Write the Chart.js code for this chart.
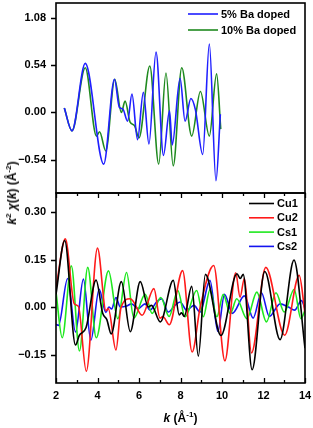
<!DOCTYPE html>
<html>
<head>
<meta charset="utf-8">
<script src="https://cdn.jsdelivr.net/npm/chart.js@4.4.1/dist/chart.umd.min.js"></script>
<style>
  html, body { margin: 0; padding: 0; background: #fff; }
  #wrap { position: relative; width: 313px; height: 428px; }
  #c { position: absolute; left: 0; top: 0; }
  .ttl { position: absolute; font-family: "Liberation Sans", Arial, sans-serif; font-weight: bold; font-size: 12px; white-space: nowrap; color: #000; line-height: 14px; }
  .ttl sup { font-size: 8px; line-height: 0; vertical-align: 5px; }
  #ytitle { left: 12px; top: 193px; transform: translate(-50%, -50%) rotate(-90deg); }
  #xtitle { left: 180.5px; top: 418px; transform: translate(-50%, -50%); }
</style>
</head>
<body>
<div id="wrap">
  <canvas id="c" width="313" height="428"></canvas>
  <div class="ttl" id="ytitle"><i>k</i><sup>2</sup> <i>χ</i>(<i>k</i>) (Å<sup>-2</sup>)</div>
  <div class="ttl" id="xtitle"><i>k</i> (Å<sup>-1</sup>)</div>
</div>
<script>
// ---- data ----
const xTicks = [2, 4, 6, 8, 10, 12, 14];
const topTicks = [-0.54, 0.00, 0.54, 1.08];
const botTicks = [-0.15, 0.00, 0.15, 0.30];

const labelsTop = ['5% Ba doped', '10% Ba doped'];
const labelsBot = ['Cu1', 'Cu2', 'Cs1', 'Cs2'];

const k5 = [2.40,2.77,3.41,4.30,4.82,5.05,5.22,5.45,5.66,5.93,6.21,6.48,6.82,7.18,7.47,7.60,7.98,8.22,8.50,8.72,9.07,9.39,9.71,9.92];
const v5 = [0.05,-0.21,0.56,-0.59,0.38,0.06,0.04,-0.10,0.21,-0.31,0.23,-0.36,0.69,-0.49,0.02,-0.37,0.39,-0.10,0.16,0.03,-0.48,0.78,-0.78,-0.02];

const k10 = [2.40,2.77,3.41,3.95,4.10,4.40,4.83,5.15,5.33,5.57,5.78,6.00,6.52,6.95,7.30,7.65,8.06,8.54,8.96,9.39,9.74,9.94];
const v10 = [0.05,-0.21,0.51,-0.27,-0.22,-0.44,0.38,0.00,0.13,-0.11,-0.15,-0.29,0.53,-0.59,0.45,-0.61,0.51,-0.27,0.24,-0.27,0.44,-0.19];

const kCu1 = [2.00,2.42,2.94,3.12,3.45,3.93,4.25,4.45,4.66,5.15,5.58,6.06,6.45,6.60,7.03,7.65,7.94,8.05,8.18,8.54,8.86,9.20,9.95,10.72,10.88,11.02,11.45,12.06,12.80,13.47,14.00];
const vCu1 = [0.04,0.21,-0.12,-0.09,-0.065,0.085,-0.02,-0.04,-0.085,0.08,-0.078,0.08,0.00,0.005,-0.047,0.084,-0.025,-0.018,-0.03,0.065,-0.155,0.103,-0.09,0.105,0.09,0.103,-0.198,0.112,-0.103,0.148,-0.13];

const kCu2 = [2.00,2.45,2.88,3.08,3.46,4.00,4.41,4.52,4.89,5.13,5.57,5.70,6.15,6.72,7.01,7.15,7.46,8.10,8.56,8.95,9.60,10.14,10.66,10.87,11.08,11.42,12.11,13.02,13.72,14.00];
const vCu2 = [0.06,0.215,0.01,0.002,-0.203,0.186,-0.012,-0.005,-0.136,-0.003,0.026,0.02,-0.026,0.058,-0.035,-0.03,-0.056,0.115,-0.142,0.0,0.131,-0.17,0.108,0.031,0.091,-0.145,0.125,-0.089,0.10,-0.02];

const kCs1 = [2.00,2.30,2.74,3.13,3.53,3.94,4.53,4.98,5.40,5.75,6.30,6.63,7.05,7.45,7.87,8.22,8.78,9.10,9.42,9.75,10.06,10.40,10.71,11.20,11.68,12.14,12.60,13.00,13.48,13.80,14.00];
const vCs1 = [0.047,-0.097,0.13,-0.139,0.125,-0.097,0.114,-0.037,0.109,-0.035,0.04,-0.02,0.03,-0.03,0.052,-0.031,0.052,-0.031,0.055,-0.031,0.04,-0.021,0.026,-0.037,0.047,-0.047,0.045,-0.016,0.056,-0.037,-0.01];

const kCs2 = [2.00,2.12,2.56,2.94,3.32,3.68,4.08,4.40,4.55,4.68,4.89,5.10,5.40,5.64,5.96,6.29,6.53,6.85,7.09,7.41,7.73,7.98,8.30,8.65,8.94,9.42,9.80,10.12,10.50,11.08,11.50,11.90,12.28,12.80,13.20,13.50,13.83,14.00];
const vCs2 = [-0.055,-0.058,0.09,-0.079,0.088,-0.105,0.056,-0.017,0.0,-0.006,0.03,0.0,0.003,0.01,-0.005,0.01,-0.01,0.016,0.026,-0.016,0.005,0.016,-0.01,0.005,-0.016,0.084,-0.077,0.04,-0.02,0.035,-0.035,0.045,-0.03,0.01,0.0,-0.01,0.02,-0.005];

// ---- build ----
const pts = (ks, vs) => ks.map((k, i) => ({ x: k, y: vs[i] }));
const FONT = '"Liberation Sans", Arial, sans-serif';

function ds(label, ks, vs, color, axis, panel) {
  return {
    label, data: pts(ks, vs), borderColor: color, backgroundColor: color,
    borderWidth: 1.6, pointRadius: 0, fill: false,
    cubicInterpolationMode: 'monotone', yAxisID: axis, panel
  };
}

const datasets = [
  ds(labelsTop[0], k5, v5, '#1f1fff', 'yTop', 'top'),
  ds(labelsTop[1], k10, v10, '#1f8a1f', 'yTop', 'top'),
  ds(labelsBot[0], kCu1, vCu1, '#000000', 'yBot', 'bot'),
  ds(labelsBot[1], kCu2, vCu2, '#ff1a1a', 'yBot', 'bot'),
  ds(labelsBot[2], kCs1, vCs1, '#1ee81e', 'yBot', 'bot'),
  ds(labelsBot[3], kCs2, vCs2, '#1414f0', 'yBot', 'bot')
];

const tickFont = { family: FONT, size: 11, weight: 'bold' };

const framePlugin = {
  id: 'frame',
  afterDraw(chart) {
    const ctx = chart.ctx;
    const x = chart.scales.x, yT = chart.scales.yTop, yB = chart.scales.yBot;
    ctx.save();
    ctx.strokeStyle = '#000';
    ctx.lineWidth = 1.6;
    ctx.strokeRect(x.left, yT.top, x.right - x.left, yT.bottom - yT.top);
    ctx.strokeRect(x.left, yB.top, x.right - x.left, yB.bottom - yB.top);
    ctx.lineWidth = 1.3;
    ctx.beginPath();
    for (let k = x.min; k <= x.max + 1e-9; k += 1) {
      const px = Math.round(x.getPixelForValue(k)) + 0.5;
      const len = (Math.round(k) % 2 === 0) ? 5 : 3;
      ctx.moveTo(px, yB.bottom); ctx.lineTo(px, yB.bottom - len);
      ctx.moveTo(px, yT.bottom); ctx.lineTo(px, yT.bottom + len);
    }
    [yT, yB].forEach(s => {
      s.ticks.forEach(t => {
        const py = Math.round(s.getPixelForValue(t.value)) + 0.5;
        ctx.moveTo(x.left, py); ctx.lineTo(x.left - 5, py);
      });
    });
    ctx.stroke();

    // legends
    ctx.font = 'bold 11px ' + FONT;
    ctx.textBaseline = 'middle';
    ctx.textAlign = 'left';
    let iT = 0, iB = 0;
    chart.data.datasets.forEach(d => {
      let y, x0, x1, tx;
      if (d.panel === 'top') {
        y = yT.top + 11 + iT * 16; iT++;
        x0 = x.right - 117; x1 = x.right - 87; tx = x.right - 84;
      } else {
        y = yB.top + 10.5 + iB * 14.3; iB++;
        x0 = x.right - 56; x1 = x.right - 31; tx = x.right - 28;
      }
      ctx.strokeStyle = d.borderColor; ctx.lineWidth = 1.6;
      ctx.beginPath(); ctx.moveTo(x0, y); ctx.lineTo(x1, y); ctx.stroke();
      ctx.fillStyle = '#000';
      ctx.fillText(d.label, tx, y + 0.5);
    });
    ctx.restore();
  }
};

function fmt(v) {
  const s = Math.abs(Number(v)).toFixed(2);
  return Number(v) < 0 ? '\u2212' + s : s;
}

function yAxis(min, max, ticks) {
  return {
    type: 'linear', position: 'left', stack: 'panels', stackWeight: 1,
    min, max,
    afterBuildTicks: s => { s.ticks = ticks.map(v => ({ value: v })); },
    afterFit: s => { s.width = 56; s.paddingTop = 0; s.paddingBottom = 0; s.paddingLeft = 0; s.paddingRight = 0; },
    ticks: { font: tickFont, color: '#000', padding: 10, callback: fmt },
    grid: { display: false, drawTicks: false },
    border: { display: false }
  };
}

new Chart(document.getElementById('c'), {
  type: 'line',
  data: { datasets },
  options: {
    responsive: false, animation: false, maintainAspectRatio: false,
    layout: { padding: { left: 0, right: 8, top: 3, bottom: 0 } },
    plugins: { legend: { display: false }, tooltip: { enabled: false } },
    scales: {
      x: {
        type: 'linear', min: 2, max: 14,
        afterBuildTicks: s => { s.ticks = xTicks.map(v => ({ value: v })); },
        afterFit: s => { s.height = 45; s.paddingLeft = 0; s.paddingRight = 0; s.paddingTop = 0; s.paddingBottom = 0; },
        ticks: { font: tickFont, color: '#000', padding: 6, maxRotation: 0 },
        grid: { display: false, drawTicks: false },
        border: { display: false }
      },
      yBot: yAxis(-0.24, 0.36, botTicks),
      yTop: yAxis(-0.92, 1.25, topTicks)
    }
  },
  plugins: [framePlugin]
});
</script>
</body>
</html>
